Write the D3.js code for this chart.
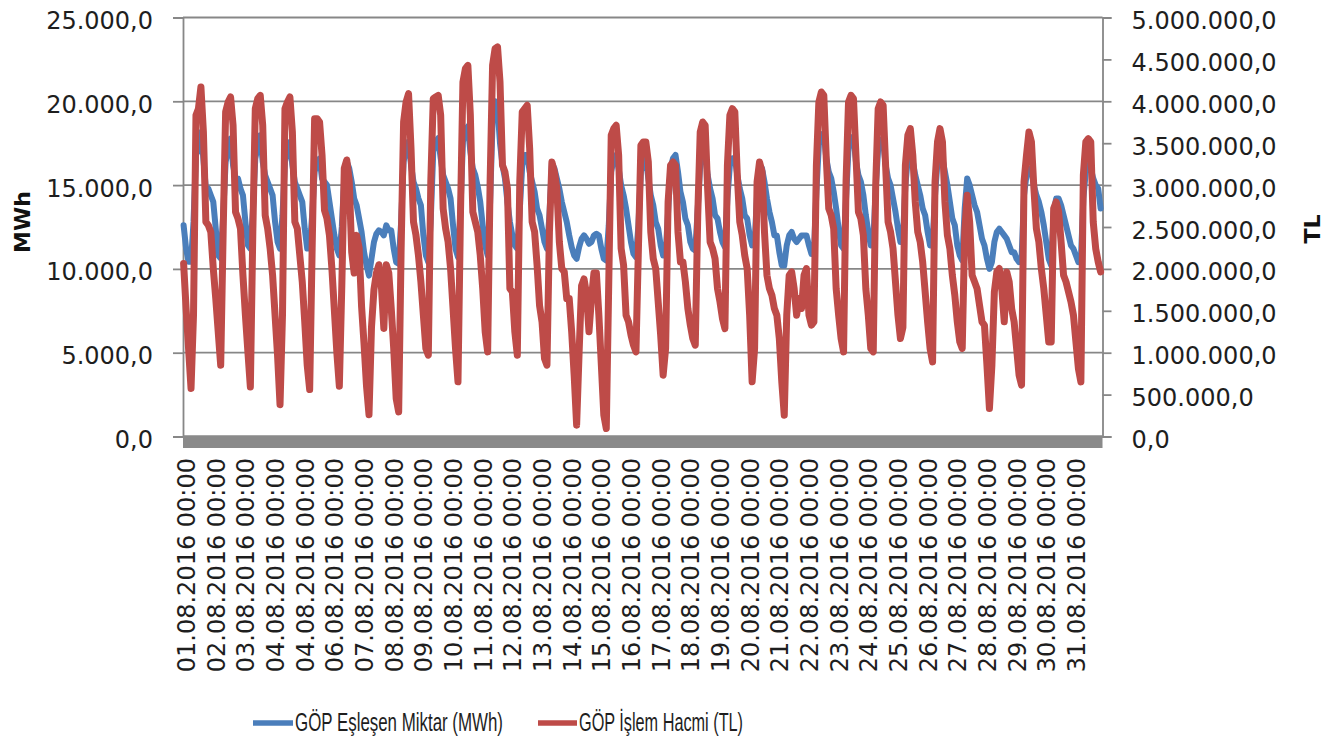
<!DOCTYPE html>
<html><head><meta charset="utf-8">
<script src="https://cdn.jsdelivr.net/npm/d3@7"></script>
<style>body{margin:0;background:#fff}svg{display:block}</style>
</head><body><svg id="c" width="1339" height="745"></svg>
<script>
// Day labels (as printed on the original axis)
const dayLabels = ["01.08.2016 00:00","02.08.2016 00:00","03.08.2016 00:00","04.08.2016 00:00","04.08.2016 00:00","06.08.2016 00:00","07.08.2016 00:00","08.08.2016 00:00","09.08.2016 00:00","10.08.2016 00:00","11.08.2016 00:00","12.08.2016 00:00","13.08.2016 00:00","14.08.2016 00:00","15.08.2016 00:00","16.08.2016 00:00","17.08.2016 00:00","18.08.2016 00:00","19.08.2016 00:00","20.08.2016 00:00","21.08.2016 00:00","22.08.2016 00:00","23.08.2016 00:00","24.08.2016 00:00","25.08.2016 00:00","26.08.2016 00:00","27.08.2016 00:00","28.08.2016 00:00","29.08.2016 00:00","30.08.2016 00:00","31.08.2016 00:00"];
// Sampled hours within each day
const sampleHours = [0,2,4,6,8,10,12,14,16,18,20,22];
// GÖP Eşleşen Miktar (MWh), one row per day
const miktarMWh = [
12600,11210,10420,10420,12800,16780,17180,18170,16580,14790,14790,14390,
14000,12400,10810,10620,13200,16380,17180,17770,16180,15390,15390,14790,
14390,12800,11410,11210,13400,16580,17370,17970,16380,15590,15190,14790,
14390,12800,11610,11210,13200,16380,17180,17570,16180,15190,14790,14390,
14000,12400,11210,11210,13200,15790,16380,16580,15390,15200,15000,14000,
13000,12000,11200,10800,12500,15500,16400,16000,15200,14200,13800,13000,
12200,11000,10200,9600,10600,11600,12100,12300,12200,12000,12600,12300,
12300,11200,10400,10300,12800,16400,17200,17600,16200,15200,14800,14200,
13800,12000,10800,10400,13000,17000,17600,17800,16600,15600,15200,14800,
14200,12600,11200,10700,13500,17600,18300,18500,17000,16000,15600,14900,
14000,12600,11400,10800,14000,18800,20000,19600,17500,16200,15400,14000,
12800,12000,11400,11200,13500,16200,16800,16800,15800,15200,14600,13600,
13200,12400,11600,11200,13200,16300,16000,15400,14800,14000,13400,12800,
12000,11300,10800,10600,11300,11800,12000,11800,11500,11600,12000,12100,
12000,11200,10600,10500,12600,15800,16600,16800,16000,15000,14400,13600,
12600,11600,10900,10700,12600,15800,16500,16600,15400,14400,13800,12800,
12400,11400,10800,10900,13400,16000,16600,16800,15800,14600,14000,13000,
12600,11600,11200,11100,13600,16200,16800,16900,15600,14800,14200,13200,
13000,12200,11600,11300,14200,16200,16600,16600,15600,14800,14200,13200,
13000,12000,11400,11600,14400,16200,16000,15200,14200,13400,12800,12000,
12000,11000,10200,10200,11400,12000,12200,11800,11600,11800,12000,12000,
12000,11400,10900,11000,14600,17400,18000,18100,16600,15800,15400,14600,
13600,12400,11400,11200,14200,17200,17800,17900,16400,15600,15200,14400,
13200,12200,11400,11600,14800,17200,17700,17600,16200,15400,15000,14200,
13400,12400,11600,11800,15000,16600,16800,16400,15600,15000,14400,13600,
13200,12200,11400,11600,14400,16400,16800,16600,15800,15000,14000,13000,
12600,11400,10800,10500,13600,15400,15000,14400,13800,13400,12600,11800,
11400,10600,10000,10400,11600,12200,12400,12200,12000,11800,11400,11000,
11000,10600,10400,10600,14400,15600,16000,15800,15000,14400,14000,13400,
12600,11600,10600,10200,13400,14200,14200,13800,13200,12600,12000,11400,
11200,10800,10400,10500,14200,15800,16200,16000,15400,15000,14800,13600
];
// GÖP İşlem Hacmi (thousand TL), one row per day
const hacimBinTL = [
2064,1527,1050,573,1447,3833,3912,4171,3634,2561,2521,2441,
2004,1646,1248,851,2441,3873,3992,4052,3714,2680,2600,2481,
1924,1447,1010,592,2441,3912,4032,4071,3714,2640,2481,2243,
1924,1447,970,380,1447,3912,3992,4052,3634,2561,2481,2163,
1845,1368,851,560,2243,3793,3793,3753,3356,2700,2600,2400,
2000,1500,1000,600,1800,3200,3300,3050,2200,1950,2400,2250,
1550,1100,600,260,1300,1750,1950,2050,1800,1290,2050,1950,
1527,1050,453,294,2243,3753,3992,4091,3435,2561,2402,2163,
1845,1447,1050,970,3038,4032,4052,4071,3833,2720,2481,2322,
2004,1527,1050,652,2640,4230,4390,4429,3833,2680,2561,2441,
2163,1765,1248,1010,3038,4429,4628,4648,4230,3236,3157,2958,
1765,1726,1248,970,3038,3873,3912,3952,3435,2561,2441,2044,
1563,1368,930,851,2441,3276,3157,2958,2322,2004,1964,1646,
1646,1248,732,135,1000,1800,1880,1700,1250,1650,1950,1950,
1447,851,254,95,1845,3594,3674,3714,3356,2243,2044,1447,
1368,1209,1090,1010,2243,3475,3515,3515,3276,2441,2123,2004,
1606,1209,732,1050,2799,3236,3276,3236,2441,2083,2083,1845,
1527,1328,1169,1090,2640,3634,3753,3714,2958,2322,2243,2123,
1765,1606,1407,1288,3236,3833,3912,3873,3117,2561,2402,2163,
2004,1447,652,1050,3038,3276,3157,2441,1924,1765,1686,1527,
1447,1169,652,254,1447,1924,1964,1765,1447,1646,1527,1924,
2004,1447,1328,1368,3236,3992,4111,4071,3316,2720,2640,2481,
1765,1447,1169,1010,3038,3992,4071,4032,3356,2680,2600,2402,
1765,1447,1050,1010,3000,3912,3992,3952,3236,2561,2441,2243,
1845,1447,1169,1300,3236,3594,3674,3356,2799,2441,2322,2083,
1726,1368,1050,891,3038,3515,3674,3515,2799,2402,2243,1924,
1686,1368,1129,1050,2441,2879,2561,1924,1845,1765,1567,1368,
1328,851,334,851,1726,1964,2004,1765,1368,1964,1845,1527,
1368,1050,732,612,3038,3356,3634,3515,2958,2481,2322,2004,
1765,1447,1129,1129,2720,2799,2680,2322,1924,1845,1726,1606,
1447,1129,811,652,3117,3515,3554,3515,2561,2243,2083,1964
];
const leftTicks = [0,5000,10000,15000,20000,25000];
const rightTicks = [0,500000,1000000,1500000,2000000,2500000,3000000,3500000,4000000,4500000,5000000];
const seriesNames = ["GÖP Eşleşen Miktar (MWh)","GÖP İşlem Hacmi (TL)"];
const axisTitles = ["MWh","TL"];

const svg = d3.select("#c");
const L = 183, R = 1102.5, T = 17.5, B = 436.5;
const hoursTotal = dayLabels.length * 24;
const x = d3.scaleLinear().domain([0, hoursTotal]).range([L, R]);
const yL = d3.scaleLinear().domain([0, 25000]).range([B, T]);
const yR = d3.scaleLinear().domain([0, 5000000]).range([B, T]);
const loc = d3.formatLocale({decimal: ",", thousands: ".", grouping: [3], currency: ["", ""]});
const fmt = loc.format(",.1f");
const gray = "#878787";
const font = "'DejaVu Sans', Verdana, sans-serif";

// gridlines (left axis)
svg.append("g").selectAll("line").data(leftTicks).join("line")
  .attr("x1", L).attr("x2", R).attr("y1", d => yL(d)).attr("y2", d => yL(d))
  .attr("stroke", gray).attr("stroke-width", 1.8);

// left axis
const gLeft = svg.append("g").attr("transform", `translate(${L},0)`)
  .call(d3.axisLeft(yL).tickValues(leftTicks).tickSize(10).tickPadding(20).tickFormat(fmt));
gLeft.select(".domain").attr("stroke", gray).attr("stroke-width", 1.8);
gLeft.selectAll(".tick line").attr("stroke", gray).attr("stroke-width", 1.8);
gLeft.selectAll(".tick text").attr("font-family", font).attr("font-size", 24).attr("fill", "#1e1e1e").attr("dy", "0.46em");

// right axis
const gRight = svg.append("g").attr("transform", `translate(${R},0)`)
  .call(d3.axisRight(yR).tickValues(rightTicks).tickSize(9).tickPadding(20).tickFormat(fmt));
gRight.select(".domain").attr("stroke", gray).attr("stroke-width", 1.8);
gRight.selectAll(".tick line").attr("stroke", gray).attr("stroke-width", 1.8);
gRight.selectAll(".tick text").attr("font-family", font).attr("font-size", 24).attr("fill", "#1e1e1e").attr("dy", "0.46em");

// bottom category axis band (dense tick marks)
svg.append("rect").attr("x", L).attr("y", B - 1).attr("width", R - L).attr("height", 12.5).attr("fill", "#8a8a8a");

// series data
const blueData = miktarMWh.map((v, i) => ({i: Math.floor(i / sampleHours.length) * 24 + sampleHours[i % sampleHours.length], v}));
const redData = hacimBinTL.map((v, i) => ({i: Math.floor(i / sampleHours.length) * 24 + sampleHours[i % sampleHours.length], v: v * 1000}));

svg.append("path").datum(blueData)
  .attr("d", d3.line().x(d => x(d.i + 0.5)).y(d => yL(d.v)))
  .attr("fill", "none").attr("stroke", "#4a7ebb").attr("stroke-width", 6)
  .attr("stroke-linejoin", "round").attr("stroke-linecap", "round");
svg.append("path").datum(redData)
  .attr("d", d3.line().x(d => x(d.i + 0.5)).y(d => yR(d.v)))
  .attr("fill", "none").attr("stroke", "#be4b48").attr("stroke-width", 7)
  .attr("stroke-linejoin", "round").attr("stroke-linecap", "round");

// category labels
svg.append("g").selectAll("text").data(dayLabels).join("text")
  .attr("transform", (d, k) => `translate(${x(k * 24) + 12},458) rotate(-90)`)
  .attr("text-anchor", "end").attr("font-family", font).attr("font-size", 24).attr("fill", "#1e1e1e")
  .text(d => d);

// axis titles
svg.append("text").attr("transform", "translate(30,222) rotate(-90)")
  .attr("text-anchor", "middle").attr("font-family", font).attr("font-weight", "bold").attr("font-size", 22).attr("fill", "#111")
  .text(axisTitles[0]);
svg.append("text").attr("transform", "translate(1320,229) rotate(-90)")
  .attr("text-anchor", "middle").attr("font-family", font).attr("font-weight", "bold").attr("font-size", 22).attr("fill", "#111")
  .text(axisTitles[1]);

// legend
const legend = [
  {name: seriesNames[0], color: "#4a7ebb", x1: 253, x2: 293, tx: 295, tw: 208},
  {name: seriesNames[1], color: "#be4b48", x1: 538, x2: 577, tx: 579, tw: 164}
];
const lg = svg.append("g");
lg.selectAll("line").data(legend).join("line")
  .attr("x1", d => d.x1).attr("x2", d => d.x2).attr("y1", 723).attr("y2", 723)
  .attr("stroke", d => d.color).attr("stroke-width", 5.5);
lg.selectAll("text").data(legend).join("text")
  .attr("x", d => d.tx).attr("y", 731)
  .attr("font-family", "'Liberation Sans', Arial, sans-serif").attr("font-size", 25).attr("fill", "#1e1e1e")
  .attr("textLength", d => d.tw).attr("lengthAdjust", "spacingAndGlyphs")
  .text(d => d.name);
</script></body></html>
